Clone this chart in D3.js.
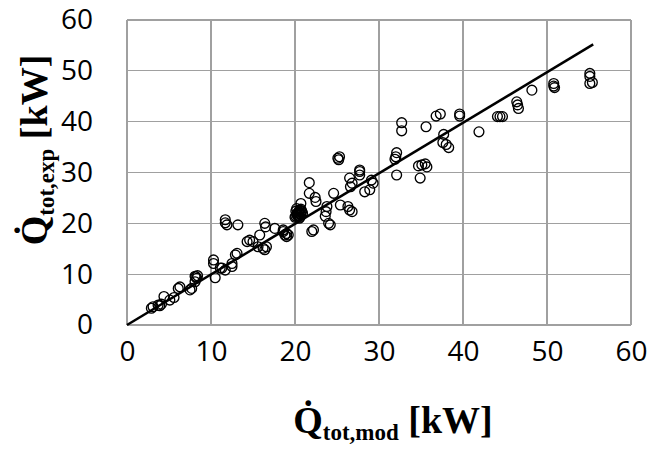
<!DOCTYPE html>
<html><head><meta charset="utf-8">
<script src="https://cdn.jsdelivr.net/npm/d3@7"></script>
<style>body{margin:0;background:#fff}</style>
</head><body>
<svg id="chart" width="670" height="449"></svg>
<script>
const xTicks = [0,10,20,30,40,50,60];
const yTicks = [0,10,20,30,40,50,60];
const fitLine = [[0,0],[55.5,55.2]];
const xMod = [2.9,3.1,3.7,3.9,4.1,4.4,5.1,5.6,6.1,6.3,7.5,7.7,8.1,8.3,8.2,8.4,8.1,
  10.3,10.3,10.5,11.3,11.7,12.5,11.1,12.5,12.9,13.1,
  11.7,11.7,11.9,13.2,16.4,16.5,17.6,18.6,19.0,19.2,15.8,14.3,14.6,15.0,15.6,16.2,16.6,16.4,
  18.6,18.8,19.0,
  20.0,20.2,20.4,20.6,20.3,20.1,20.5,20.2,20.4,20.3,20.1,20.5,20.7,20.8,20.6,20.9,20.7,20.5,
  21.7,21.7,22.4,22.5,20.7,24.6,25.4,23.8,23.7,23.6,24.0,24.2,22.2,22.0,
  26.5,26.8,26.6,27.7,27.7,29.1,29.3,28.9,28.3,26.3,26.5,26.8,25.2,25.3,25.1,27.7,
  32.7,32.7,35.6,36.8,37.3,39.6,39.6,37.7,37.6,38.0,38.3,32.1,32.0,31.9,32.1,
  34.7,35.1,35.5,35.7,34.9,
  41.9,44.1,44.4,44.7,46.4,46.5,46.6,48.2,50.8,50.8,50.9,55.1,55.1,55.1,55.4];
const yExp = [3.3,3.6,3.9,3.8,4.1,5.6,4.9,5.4,7.2,7.5,6.9,7.2,8.5,9.2,9.5,9.7,9.6,
  12.8,12.1,9.3,11.2,10.8,11.5,11.2,12.1,13.8,14.1,
  20.7,20.1,19.7,19.7,20.0,19.3,19.0,18.4,18.0,17.7,17.7,16.4,16.7,16.4,15.4,15.1,15.4,14.8,
  18.7,17.7,17.4,
  21.2,21.8,22.2,22.6,21.5,22.4,21.9,22.9,21.6,22.0,21.4,22.3,21.8,22.4,21.2,22.0,22.8,21.0,
  28.0,25.9,25.1,24.3,23.9,25.9,23.6,23.3,22.3,21.4,20.0,19.7,18.7,18.4,
  28.9,27.9,27.2,30.2,29.5,28.5,27.9,26.6,26.2,23.3,22.6,22.3,32.5,33.1,32.8,30.5,
  39.8,38.2,39.0,41.1,41.5,41.5,41.1,37.5,35.9,35.5,34.9,33.9,33.1,32.6,29.5,
  31.3,31.5,31.7,31.1,28.9,
  38.0,41.0,41.0,41.0,43.9,43.3,42.6,46.2,47.5,47.0,46.7,49.5,48.9,47.5,47.7];

const svg = d3.select("#chart");
const m = {left:127, right:631, top:20, bottom:325};
const x = d3.scaleLinear().domain([0,60]).range([m.left,m.right]);
const y = d3.scaleLinear().domain([0,60]).range([m.bottom,m.top]);
const grid = "#a0a0a0";

svg.append("g").selectAll("line").data(xTicks).join("line")
  .attr("x1",d=>x(d)).attr("x2",d=>x(d)).attr("y1",y(0)).attr("y2",y(60))
  .attr("stroke",grid).attr("stroke-width",1.3).attr("shape-rendering","crispEdges");
svg.append("g").selectAll("line").data(yTicks).join("line")
  .attr("y1",d=>y(d)).attr("y2",d=>y(d)).attr("x1",x(0)).attr("x2",x(60))
  .attr("stroke",grid).attr("stroke-width",1.3).attr("shape-rendering","crispEdges");

const xAxis = svg.append("g").attr("transform",`translate(0,${m.bottom})`)
  .call(d3.axisBottom(x).tickValues(xTicks).tickSize(0).tickPadding(16));
const yAxis = svg.append("g").attr("transform",`translate(${m.left},0)`)
  .call(d3.axisLeft(y).tickValues(yTicks).tickSize(0).tickPadding(34));
[xAxis,yAxis].forEach(a=>{
  a.select(".domain").remove();
  a.selectAll("text").attr("font-family","Open Sans, sans-serif").attr("font-size",28).attr("fill","#000");
});

const pts = xMod.map((d,i)=>[d,yExp[i]]);
svg.append("g").selectAll("circle").data(pts).join("circle")
  .attr("cx",d=>x(d[0])).attr("cy",d=>y(d[1])).attr("r",4.9)
  .attr("fill","none").attr("stroke","#000").attr("stroke-width",1.35);

svg.append("path").datum(fitLine)
  .attr("d",d3.line().x(d=>x(d[0])).y(d=>y(d[1])))
  .attr("stroke","#000").attr("stroke-width",2.5).attr("fill","none");

function title(g){
  return g.append("text").attr("font-family","Liberation Serif, Times New Roman, serif")
    .attr("font-weight","bold").attr("fill","#000").attr("text-anchor","middle");
}
const tx = title(svg.append("g").attr("transform","translate(393,433)"));
tx.append("tspan").attr("font-size",38).text("Q\u0307");
tx.append("tspan").attr("font-size",23).attr("dy",7).text("tot,mod");
tx.append("tspan").attr("font-size",38).attr("dy",-7).text(" [kW]");

const ty = title(svg.append("g").attr("transform","translate(47,150) rotate(-90)"));
ty.append("tspan").attr("font-size",38).text("Q\u0307");
ty.append("tspan").attr("font-size",23).attr("dy",7).text("tot,exp");
ty.append("tspan").attr("font-size",38).attr("dy",-7).text(" [kW]");
</script>
</body></html>
